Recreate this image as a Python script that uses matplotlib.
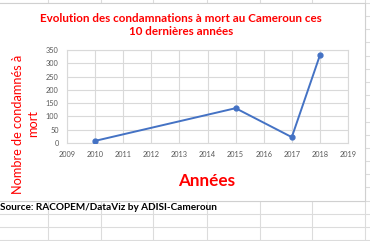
import matplotlib
matplotlib.use("Agg")
import matplotlib.pyplot as plt
from matplotlib.lines import Line2D
from matplotlib.patches import Rectangle

years = [2010, 2015, 2017, 2018]
condamnations = [8, 131, 22, 330]
x_ticks = list(range(2009, 2020))
y_ticks = [0, 50, 100, 150, 200, 250, 300, 350]

W, H = 370, 241
fig = plt.figure(figsize=(W / 100, H / 100), dpi=100)
fig.patch.set_facecolor("white")

def fx(px):
    return px / W

def fy(py):
    return 1 - py / H

grid_c = "#dcdcdc"
# spreadsheet background grid
for xc in [48, 101, 153, 207, 260, 312, 365]:
    fig.add_artist(Line2D([fx(xc), fx(xc)], [0, 1], color=grid_c, lw=0.8, zorder=0))
row = 2.7
while row < H:
    fig.add_artist(Line2D([0, 1], [fy(row), fy(row)], color=grid_c, lw=0.8, zorder=0))
    row += 13.2

# chart area
fig.add_artist(Rectangle((fx(-2), fy(201)), fx(367), fy(3) - fy(201),
                         facecolor="white", edgecolor="#d0d0d0", lw=0.8, zorder=1))

ax = fig.add_axes([fx(67), fy(143), fx(348) - fx(67), fy(50) - fy(143)])
ax.set_zorder(2)
ax.set_facecolor("white")
ax.plot(years, condamnations, color="#4472C4", lw=1.4, marker="o", ms=3.5, zorder=3)
ax.set_xlim(2009, 2019)
ax.set_ylim(0, 350)
ax.set_xticks(x_ticks)
ax.set_yticks(y_ticks)
ax.grid(True, color="#d9d9d9", lw=0.8)
ax.set_axisbelow(True)
for s in ax.spines.values():
    s.set_color("#d9d9d9")
    s.set_linewidth(0.8)
ax.tick_params(length=0, labelsize=5.3, labelcolor="#595959", pad=6)
for lab in ax.get_xticklabels() + ax.get_yticklabels():
    lab.set_family("Lato")

fig.text(fx(181), fy(25), "Evolution des condamnations à mort au Cameroun ces\n10 dernières années",
         ha="center", va="center", color="red", fontsize=8.4, fontweight="bold",
         family="Lato", linespacing=1.3, zorder=4)
fig.text(fx(26), fy(124), "Nombre de condamnés à\nmort", rotation=90,
         ha="center", va="center", color="red", fontsize=9.2, family="Lato",
         linespacing=1.3, multialignment="center", zorder=4)
fig.text(fx(207), fy(181), "Années", ha="center", va="center", color="red",
         fontsize=12.3, fontweight="bold", family="Lato", zorder=4)
fig.text(fx(0.5), fy(208), "Source: RACOPEM/DataViz by ADISI-Cameroun", ha="left",
         va="center", color="black", fontsize=7.2, fontweight="bold", family="Lato", zorder=4)

fig.savefig("out.png", dpi=100)
